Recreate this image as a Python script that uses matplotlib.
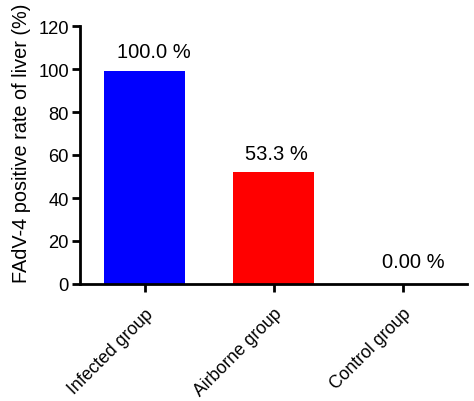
import matplotlib
matplotlib.use("Agg")
import matplotlib.pyplot as plt

plt.rcParams['font.family'] = ['Liberation Sans', 'DejaVu Sans']

categories = ["Infected group", "Airborne group", "Control group"]
values = [99.0, 52.2, 0.0]
labels = ["100.0 %", "53.3 %", "0.00 %"]
colors = ["#0000FF", "#FF0000", "#FFFFFF"]
yticks = [0, 20, 40, 60, 80, 100, 120]

fig = plt.figure(figsize=(4.74, 4.02), dpi=100)
ax = fig.add_axes([80/474, 117/402, (467-80)/474, (285-27)/402])

x = list(range(len(categories)))
ax.bar(x, values, width=0.63, color=colors, edgecolor='none')

label_offsets = [7, 6, 9]
for xi, v, lab, off, dx in zip(x, values, labels, label_offsets, [0.07, 0.02, 0.08]):
    ax.annotate(lab, (xi + dx, v), xytext=(0, off), textcoords='offset points',
                ha='center', va='bottom', fontsize=14.5)

ax.set_xlim(-0.5, 2.5)
ax.set_ylim(0, 120)
ax.set_yticks(yticks)
ax.set_xticks(x)
ax.set_xticklabels(categories, rotation=45, ha='right', va='top',
                   rotation_mode='anchor', fontsize=12.7)
ax.tick_params(axis='y', labelsize=13.2, width=2, length=6, pad=2)
ax.tick_params(axis='x', width=2, length=6, pad=9)
for s in ['top', 'right']:
    ax.spines[s].set_visible(False)
for s in ['left', 'bottom']:
    ax.spines[s].set_linewidth(2)
ax.set_ylabel("FAdV-4 positive rate of liver (%)", fontsize=14.3)
ax.yaxis.set_label_coords(-0.126, 0.55)

fig.savefig("out.png", dpi=100)
